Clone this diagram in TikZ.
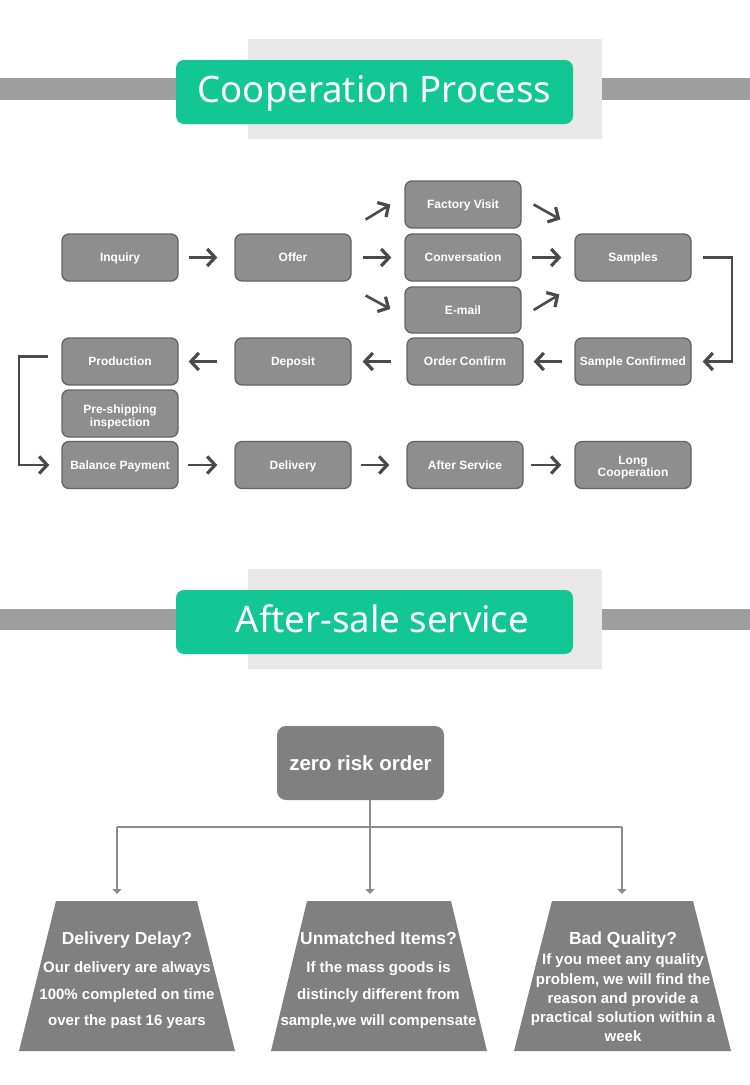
\documentclass[tikz,border=0pt]{standalone}
\usepackage{fontspec}
\setmainfont{Liberation Sans}
\newfontfamily\titlefont{Noto Sans}
\usetikzlibrary{arrows.meta,calc}
\definecolor{grn}{HTML}{13C795}
\definecolor{backgray}{HTML}{E8E8E8}
\definecolor{bargray}{HTML}{9E9E9E}
\definecolor{boxfill}{HTML}{8E8E8E}
\definecolor{boxline}{HTML}{646464}
\definecolor{arrgray}{HTML}{4A4A4A}
\definecolor{darkfill}{HTML}{808080}
\definecolor{conngray}{HTML}{8C8C8C}
\begin{document}
\begin{tikzpicture}[x=1pt,y=-1pt,
  stepbox/.style={draw=boxline,line width=1.3pt,fill=boxfill,rounded corners=7pt,
    minimum width=116pt,minimum height=47pt,inner sep=0pt,text=white,
    font=\bfseries\fontsize{12}{12.5}\selectfont,text height=8.6pt,text depth=0pt},
  boxtext/.style={text=white,font=\bfseries\fontsize{12}{12.5}\selectfont,align=center,inner sep=0pt},
  tipshape/.style={-{Straight Barb[length=8pt,width=17pt,line width=3.2pt]}},
  arr/.style={draw=arrgray,line width=2.6pt,tipshape},
  loop/.style={draw=arrgray,line width=2.2pt,tipshape},
  conn/.style={draw=conngray,line width=1.2pt},
  connarr/.style={conn,-{Triangle[length=5pt,width=9pt]}},
  trap/.style={fill=darkfill},
  traptitle/.style={text=white,font=\bfseries\fontsize{17.5}{20}\selectfont,anchor=base,inner sep=0pt},
  trapbody/.style={text=white,align=center,inner sep=0pt},
  greenbox/.style={fill=grn,rounded corners=8pt,minimum width=397pt,minimum height=64pt,inner sep=0pt},
  titletext/.style={text=white,font=\titlefont\fontsize{36.5}{40}\selectfont,anchor=base,inner sep=0pt}
]
\useasboundingbox (0,0) rectangle (750,1085);
\fill[white] (0,0) rectangle (750,1085);

% ---------- header 1
\fill[backgray] (248,39) rectangle (602,139);
\fill[bargray] (0,78) rectangle (176,100);
\fill[bargray] (602,78) rectangle (750,100);
\node[greenbox] (g1) at (374.5,92) {};
\node[titletext] (t1) at (374.5,102) {Cooperation Process};

% ---------- flow chart
\node[stepbox] (inq) at (120,257.5) {Inquiry};
\node[stepbox] (off) at (293,257.5) {Offer};
\node[stepbox] (fv) at (463,204.5) {Factory Visit};
\node[stepbox] (conv) at (463,257.5) {Conversation};
\node[stepbox,minimum height=46pt] (mail) at (463,310) {E-mail};
\node[stepbox] (smp) at (633,257.5) {Samples};
\node[stepbox] (prod) at (120,361.5) {Production};
\node[stepbox] (dep) at (293,361.5) {Deposit};
\node[stepbox] (oc) at (465,361.5) {Order Confirm};
\node[stepbox] (sc) at (633,361.5) {Sample Confirmed};
\node[stepbox] (pre) at (120,413.5) {};
\node[boxtext] (pre-t) at (120,417) {Pre-shipping\\inspection};
\node[stepbox] (bal) at (120,465) {Balance Payment};
\node[stepbox] (del) at (293,465) {Delivery};
\node[stepbox] (aft) at (465,465) {After Service};
\node[stepbox] (lc) at (633,465) {};
\node[boxtext] (lc-t) at (633,467.5) {Long\\Cooperation};

\draw[arr,shorten <=10pt,shorten >=17pt] (inq) -- (off);
\draw[arr,shorten <=11pt,shorten >=13pt] (off) -- (conv);
\draw[arr] ([shift={(14,-38)}]off.east) -- ([shift={(-14,0)}]fv.west);
\draw[arr] ([shift={(14,38)}]off.east) -- ([shift={(-14,-1)}]mail.west);
\draw[arr,shorten <=10pt,shorten >=13pt] (conv) -- (smp);
\draw[arr] ([shift={(12,0)}]fv.east) -- ([shift={(-14,-38)}]smp.west);
\draw[arr] ([shift={(12,0)}]mail.east) -- ([shift={(-15,37)}]smp.west);
\draw[loop] ([shift={(11,0)}]smp.east) -- ++(29,0) |- ([shift={(11,0)}]sc.east);
\draw[arr,shorten <=12pt,shorten >=10pt] (sc) -- (oc);
\draw[arr,shorten <=15pt,shorten >=11pt] (oc) -- (dep);
\draw[arr,shorten <=17pt,shorten >=10pt] (dep) -- (prod);
\draw[loop] ([shift={(-13,-5)}]prod.west) -- ++(-29,0) |- ([shift={(-12,0)}]bal.west);
\draw[arr,shorten <=9pt,shorten >=17pt] (bal) -- (del);
\draw[arr,shorten <=9pt,shorten >=17pt] (del) -- (aft);
\draw[arr,shorten <=7pt,shorten >=13pt] (aft) -- (lc);

% ---------- header 2
\fill[backgray] (248,569) rectangle (602,669);
\fill[bargray] (0,609) rectangle (176,630);
\fill[bargray] (602,609) rectangle (750,630);
\node[greenbox] (g2) at (374.5,622) {};
\node[titletext] (t2) at (382.5,632) {After-sale service};

% ---------- after-sale
\node[fill=darkfill,rounded corners=9pt,minimum width=167pt,minimum height=74pt,inner sep=0pt,
  text=white,font=\bfseries\fontsize{20.5}{24}\selectfont] (zero) at (360.5,763) {zero risk order};
\coordinate (j) at (370,827);
\coordinate (a1) at (117,894);
\coordinate (a2) at (370,894);
\coordinate (a3) at (622,894);
\draw[connarr] (zero.south -| a2) -- (a2);
\draw[conn] (j -| a1) -- (j -| a3);
\draw[connarr] (j -| a1) -- (a1);
\draw[connarr] (j -| a3) -- (a3);

\fill[trap] (56,901) -- (197,901) -- (235,1051) -- (19,1051) -- cycle;
\fill[trap] (307,901) -- (451,901) -- (487,1051) -- (271,1051) -- cycle;
\fill[trap] (552,901) -- (693,901) -- (731,1051) -- (514,1051) -- cycle;

\node[traptitle] (h1) at (127,944) {Delivery Delay?};
\node[trapbody,font=\bfseries\fontsize{15}{26.5}\selectfont] (b1) at (127,995.5)
  {Our delivery are always\\100\% completed on time\\over the past 16 years};
\node[traptitle] (h2) at (378.5,944) {Unmatched Items?};
\node[trapbody,font=\bfseries\fontsize{15}{26.5}\selectfont] (b2) at (378.5,995.5)
  {If the mass goods is\\distincly different from\\sample,we will compensate};
\node[traptitle] (h3) at (623,944) {Bad Quality?};
\node[trapbody,font=\bfseries\fontsize{15}{19.3}\selectfont] (b3) at (623,998)
  {If you meet any quality\\problem, we will find the\\reason and provide a\\practical solution within a\\week};
\end{tikzpicture}
\end{document}
